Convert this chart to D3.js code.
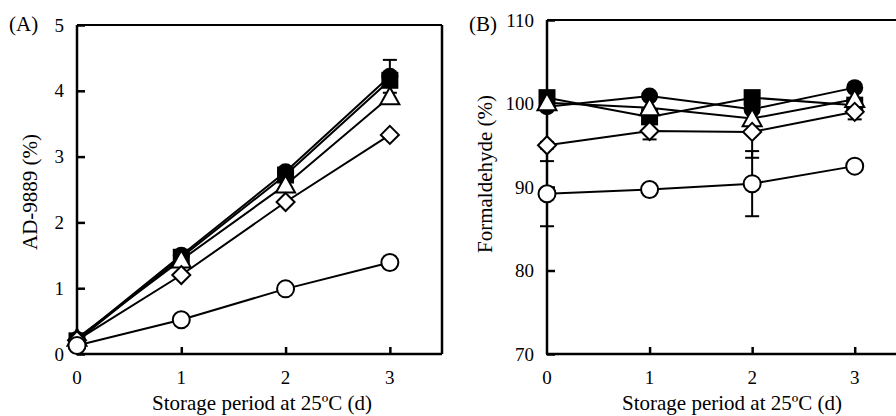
<!DOCTYPE html>
<html>
<head>
<meta charset="utf-8">
<script src="https://cdn.jsdelivr.net/npm/d3@7"></script>
<style>
  body { margin: 0; background: #fff; }
  svg { display: block; font-family: "Liberation Serif", "Times New Roman", serif; }
  .tick-label { font-size: 19px; fill: #000; }
  .axis-title { font-size: 21px; fill: #000; }
  .panel-label { font-size: 21px; fill: #000; }
</style>
</head>
<body>
<div id="vis"></div>
<script>
// storage days on the x axis
const DAYS = [0, 1, 2, 3];
const X_TICKS = [0, 1, 2, 3];

// series symbols, drawn in this order
const SYMBOLS = ["filledCircle", "filledSquare", "openTriangle", "openDiamond", "openCircle"];

// (A) AD-9889 (%)
const A_FILLED_CIRCLE = [0.22, 1.50, 2.77, 4.22];
const A_FILLED_SQUARE = [0.20, 1.47, 2.72, 4.16];
const A_OPEN_TRIANGLE = [0.24, 1.43, 2.57, 3.91];
const A_OPEN_DIAMOND = [0.21, 1.20, 2.31, 3.33];
const A_OPEN_CIRCLE = [0.13, 0.52, 0.99, 1.39];
const A_ERR_FILLED_CIRCLE = [0, 0, 0.05, 0.25];
const A_Y_TICKS = [0, 1, 2, 3, 4, 5];

// (B) Formaldehyde (%)
const B_FILLED_CIRCLE = [99.6, 100.9, 99.3, 101.9];
const B_FILLED_SQUARE = [100.7, 98.4, 100.7, 99.8];
const B_OPEN_TRIANGLE = [100.1, 99.5, 98.2, 100.5];
const B_OPEN_DIAMOND = [95.0, 96.7, 96.6, 99.0];
const B_OPEN_CIRCLE = [89.2, 89.7, 90.4, 92.5];
const B_ERR_OPEN_DIAMOND = [0.4, 1.0, 3.1, 0.9];
const B_ERR_OPEN_CIRCLE = [3.9, 0.3, 3.9, 0.4];
const B_Y_TICKS = [70, 80, 90, 100, 110];

const FRAME_WIDTH = 896;
const FRAME_HEIGHT = 416;

const FRAME = d3.select("#vis")
                .append("svg")
                  .attr("width", FRAME_WIDTH)
                  .attr("height", FRAME_HEIGHT);

// build the series list for a panel
function makeSeries(values, errors) {
    return SYMBOLS.map((s, i) => ({
        symbol: s,
        points: DAYS.map((d, j) => ({x: d, y: values[i][j], e: errors[i] ? errors[i][j] : 0}))
    }));
}

function drawMarker(g, symbol, cx, cy) {
    if (symbol === "filledCircle") {
        g.append("circle").attr("cx", cx).attr("cy", cy).attr("r", 8.5).attr("fill", "#000");
    } else if (symbol === "filledSquare") {
        g.append("rect").attr("x", cx - 8.5).attr("y", cy - 8.5)
            .attr("width", 17).attr("height", 17).attr("fill", "#000");
    } else if (symbol === "openTriangle") {
        const s = 9.5;
        g.append("path")
            .attr("d", `M${cx},${cy - s} L${cx + s},${cy + s * 0.8} L${cx - s},${cy + s * 0.8} Z`)
            .attr("fill", "#fff").attr("stroke", "#000").attr("stroke-width", 2)
            .attr("stroke-linejoin", "miter");
    } else if (symbol === "openDiamond") {
        const s = 9;
        g.append("path")
            .attr("d", `M${cx},${cy - s} L${cx + s},${cy} L${cx},${cy + s} L${cx - s},${cy} Z`)
            .attr("fill", "#fff").attr("stroke", "#000").attr("stroke-width", 2);
    } else {
        g.append("circle").attr("cx", cx).attr("cy", cy).attr("r", 8.5)
            .attr("fill", "#fff").attr("stroke", "#000").attr("stroke-width", 2);
    }
}

function drawPanel(opt) {
    const X_SCALE = d3.scaleLinear().domain([0, 3.5]).range([opt.left, opt.right]);
    const Y_SCALE = d3.scaleLinear().domain(opt.yDomain).range([opt.bottom, opt.top]);
    const g = FRAME.append("g");

    // frame lines
    g.append("line").attr("x1", opt.left).attr("x2", opt.left)
        .attr("y1", opt.top).attr("y2", opt.bottom)
        .attr("stroke", "#000").attr("stroke-width", 2.5);
    g.append("line").attr("x1", opt.left - 1).attr("x2", opt.right)
        .attr("y1", opt.bottom).attr("y2", opt.bottom)
        .attr("stroke", "#000").attr("stroke-width", 2.5);
    g.append("line").attr("x1", opt.left).attr("x2", opt.right)
        .attr("y1", opt.top).attr("y2", opt.top)
        .attr("stroke", "#000").attr("stroke-width", 2);
    g.append("line").attr("x1", opt.right).attr("x2", opt.right)
        .attr("y1", opt.top).attr("y2", opt.bottom)
        .attr("stroke", "#000").attr("stroke-width", 2.5);

    // inward ticks
    const yAxis = g.append("g")
        .attr("transform", "translate(" + opt.left + ",0)")
        .call(d3.axisRight(Y_SCALE).tickValues(opt.yTicks).tickSize(8).tickFormat(""));
    yAxis.select(".domain").remove();
    yAxis.selectAll("line").attr("stroke-width", 2.5);

    const xAxis = g.append("g")
        .attr("transform", "translate(0," + opt.bottom + ")")
        .call(d3.axisTop(X_SCALE).tickValues(X_TICKS.slice(1)).tickSize(7).tickFormat(""));
    xAxis.select(".domain").remove();
    xAxis.selectAll("line").attr("stroke-width", 2.5);

    // tick labels
    g.selectAll(".ylab").data(opt.yTicks).enter().append("text")
        .attr("class", "tick-label")
        .attr("x", opt.left - 13).attr("y", (d) => Y_SCALE(d) + 6.5)
        .attr("text-anchor", "end").text((d) => d);
    g.selectAll(".xlab").data(X_TICKS).enter().append("text")
        .attr("class", "tick-label")
        .attr("x", (d) => X_SCALE(d)).attr("y", 384)
        .attr("text-anchor", "middle").text((d) => d);

    // titles
    g.append("text").attr("class", "axis-title")
        .attr("x", opt.titleX).attr("y", 410)
        .attr("text-anchor", "middle").text("Storage period at 25ºC (d)");
    g.append("text").attr("class", "axis-title")
        .attr("transform", "translate(" + opt.yTitleX + "," + opt.yTitleY + ") rotate(-90)")
        .attr("text-anchor", "middle").text(opt.yTitle);
    g.append("text").attr("class", "panel-label")
        .attr("x", opt.labelX).attr("y", 31).text(opt.label);

    const series = makeSeries(opt.values, opt.errors);
    const line = d3.line().x((d) => X_SCALE(d.x)).y((d) => Y_SCALE(d.y));

    // error bars
    series.forEach((s) => {
        s.points.filter((p) => p.e > 0).forEach((p) => {
            const x = X_SCALE(p.x);
            const y1 = Y_SCALE(p.y - p.e), y2 = Y_SCALE(p.y + p.e);
            g.append("line").attr("x1", x).attr("x2", x).attr("y1", y1).attr("y2", y2)
                .attr("stroke", "#000").attr("stroke-width", 2);
            [y1, y2].forEach((yy) => {
                g.append("line").attr("x1", x - 7).attr("x2", x + 7).attr("y1", yy).attr("y2", yy)
                    .attr("stroke", "#000").attr("stroke-width", 2);
            });
        });
    });

    // lines
    series.forEach((s) => {
        g.append("path").datum(s.points).attr("d", line)
            .attr("fill", "none").attr("stroke", "#000").attr("stroke-width", 2);
    });

    // markers
    series.forEach((s) => {
        s.points.forEach((p) => drawMarker(g, s.symbol, X_SCALE(p.x), Y_SCALE(p.y)));
    });
}

drawPanel({
    left: 77, right: 442, top: 25, bottom: 354,
    yDomain: [0, 5], yTicks: A_Y_TICKS,
    values: [A_FILLED_CIRCLE, A_FILLED_SQUARE, A_OPEN_TRIANGLE, A_OPEN_DIAMOND, A_OPEN_CIRCLE],
    errors: [A_ERR_FILLED_CIRCLE, null, null, null, null],
    yTitle: "AD-9889 (%)", yTitleX: 37, yTitleY: 192,
    titleX: 262, label: "(A)", labelX: 9
});

drawPanel({
    left: 547, right: 906, top: 20, bottom: 354,
    yDomain: [70, 110], yTicks: B_Y_TICKS,
    values: [B_FILLED_CIRCLE, B_FILLED_SQUARE, B_OPEN_TRIANGLE, B_OPEN_DIAMOND, B_OPEN_CIRCLE],
    errors: [null, null, null, B_ERR_OPEN_DIAMOND, B_ERR_OPEN_CIRCLE],
    yTitle: "Formaldehyde (%)", yTitleX: 492, yTitleY: 174,
    titleX: 732, label: "(B)", labelX: 469
});
</script>
</body>
</html>
